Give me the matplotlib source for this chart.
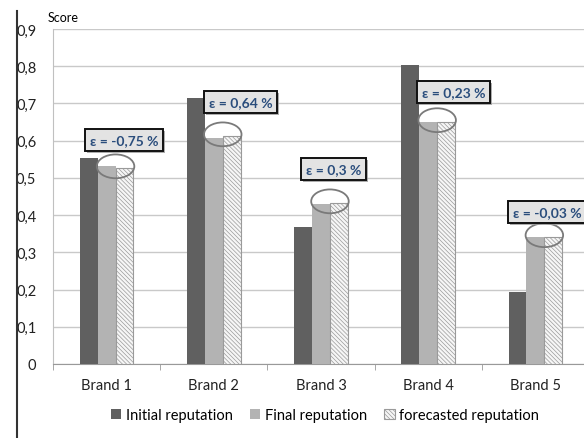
import numpy as np
import matplotlib
matplotlib.use("Agg")
import matplotlib.pyplot as plt
import matplotlib.patheffects as pe
from matplotlib.patches import Ellipse, Patch
from matplotlib.lines import Line2D

plt.rcParams['font.family'] = ['Lato', 'DejaVu Sans']
plt.rcParams['hatch.linewidth'] = 0.5

# dados
marcas = ['Brand 1', 'Brand 2', 'Brand 3', 'Brand 4', 'Brand 5']
inicial = [0.553, 0.715, 0.367, 0.804, 0.194]
final = [0.533, 0.607, 0.431, 0.650, 0.341]
previsto = [0.527, 0.613, 0.433, 0.651, 0.342]
erros = ['ε = -0,75 %', 'ε = 0,64 %', 'ε = 0,3 %', 'ε = 0,23 %', 'ε = -0,03 %']
y_ticks = [0, 0.1, 0.2, 0.3, 0.4, 0.5, 0.6, 0.7, 0.8, 0.9]
y_rotulos = ['0', '0,1', '0,2', '0,3', '0,4', '0,5', '0,6', '0,7', '0,8', '0,9']

# posicao das caixas de erro (x, y em unidades de dados)
pos_caixas = [(0.162, 0.602), (1.248, 0.704), (2.114, 0.524), (3.234, 0.731), (4.11, 0.409)]

cor_inicial = '#606060'
cor_final = '#b3b3b3'
cor_grade = '#c9c9c9'
hachura = '\\\\\\\\\\\\\\\\'

fig = plt.figure(figsize=(5.84, 4.39), dpi=100)
ax = fig.add_axes([53 / 584, 1 - 365 / 439, 536 / 584, 335 / 439])

x = np.arange(len(marcas))
w = 0.167

ax.bar(x - w, inicial, w, color=cor_inicial, zorder=3)
ax.bar(x, final, w, color=cor_final, zorder=3)
ax.bar(x + w, previsto, w, color='#f6f6f6', edgecolor='#9a9a9a', hatch=hachura, linewidth=0.8, zorder=3)

for i in range(len(marcas)):
    el = Ellipse((x[i] + w / 2, previsto[i] + 0.004), 0.35, 0.064, fill=False,
                 edgecolor='#7a7a7a', linewidth=1.3, zorder=5)
    ax.add_patch(el)
    cx, cy = pos_caixas[i]
    t = ax.text(cx, cy, erros[i], ha='center', va='center', fontsize=10,
                fontweight='bold', color='#2a4d7c', zorder=6,
                bbox=dict(boxstyle='square,pad=0.35', facecolor='#e3e3e3', edgecolor='#111111', linewidth=1.4))
    t.get_bbox_patch().set_path_effects([pe.SimplePatchShadow(offset=(1.5, -1.5), shadow_rgbFace='#999999', alpha=0.8),
                                         pe.Normal()])

ax.set_xlim(-0.5, 4.5)
ax.set_ylim(0, 0.9)
ax.set_yticks(y_ticks)
ax.set_yticklabels(y_rotulos)
ax.set_xticks(x)
ax.set_xticklabels(marcas)
ax.set_xticks(np.arange(-0.5, 5, 1), minor=True)
ax.tick_params(axis='x', which='major', length=0, pad=10, labelsize=10.5, colors='#222222')
ax.tick_params(axis='x', which='minor', length=4, color='#999999', direction='out')
ax.tick_params(axis='y', length=0, pad=12, labelsize=10.5, colors='#222222')
ax.yaxis.grid(True, color=cor_grade, linewidth=1, zorder=0)
ax.set_axisbelow(True)
for s in ['top', 'right']:
    ax.spines[s].set_visible(False)
ax.spines['left'].set_color('#c0c0c0')
ax.spines['bottom'].set_color('#999999')

fig.text(48 / 584, 1 - 18 / 439, 'Score', fontsize=9, va='center', ha='left')
fig.add_artist(Line2D([17 / 584, 17 / 584], [0, 1 - 12 / 439], color='#333333', linewidth=1.5))

legenda = [Patch(facecolor=cor_inicial, label='Initial reputation'),
           Patch(facecolor=cor_final, label='Final reputation'),
           Patch(facecolor='#f6f6f6', edgecolor='#9a9a9a', hatch=hachura, linewidth=0.8,
                 label='forecasted reputation')]
fig.legend(handles=legenda, loc='center', bbox_to_anchor=(325 / 584, 1 - 416 / 439), ncol=3,
           frameon=False, fontsize=10.5, handlelength=0.7, handleheight=0.7, handletextpad=0.3,
           columnspacing=1.2)

fig.savefig('out.png', dpi=100)
